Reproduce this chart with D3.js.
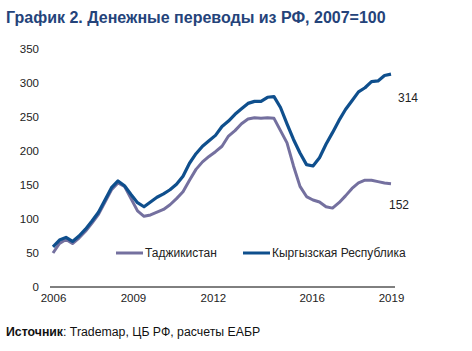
<!DOCTYPE html>
<html>
<head>
<meta charset="utf-8">
<script src="https://cdn.jsdelivr.net/npm/d3@7"></script>
<style>
  body { margin: 0; background: #fff; }
  svg { font-family: "Liberation Sans", Arial, sans-serif; }
</style>
</head>
<body>
<div id="chart"></div>
<script>
// quarterly series, 2006Q1 .. 2019Q1, 2007=100
var quarters = d3.range(0, 53);
var tajik = [50, 64, 70, 64, 72, 82, 94, 107, 125, 143, 153, 148, 130, 112, 104, 106,
    110, 114, 121, 130, 140, 157, 173, 184, 192, 199, 207, 222, 230, 240, 247, 249,
    248, 249, 248, 230, 212, 178, 148, 133, 128, 125, 118, 116, 124, 134, 145, 153,
    157, 157, 155, 153, 152];
var kyrgyz = [59, 69, 73, 67, 75, 85, 97, 110, 128, 146, 156, 149, 136, 124, 118, 125,
    132, 137, 143, 151, 163, 182, 196, 207, 215, 223, 236, 244, 254, 262, 270, 273,
    273, 279, 280, 264, 240, 217, 197, 180, 178, 190, 210, 227, 245, 261, 274, 287,
    293, 302, 303, 311, 313];
// label positions on the quarter index
var yearTicks = [0, 12.3, 24.6, 39.8, 52];
var yearLabels = ["2006", "2009", "2012", "2016", "2019"];
var seriesNames = ["Таджикистан", "Кыргызская Республика"];
var endLabels = ["152", "314"];

var W = 472, H = 351;
var margin = {top: 49, right: 80, bottom: 64, left: 53};

var svg = d3.select("#chart").append("svg")
    .attr("width", W)
    .attr("height", H);

var x = d3.scaleLinear().domain([0, 52]).range([margin.left, 391]);
var y = d3.scaleLinear().domain([0, 350]).range([287, 49]);

svg.append("text")
    .attr("x", 6)
    .attr("y", 23)
    .attr("font-size", 16)
    .attr("font-weight", "bold")
    .attr("fill", "#24437a")
    .text("График 2. Денежные переводы из РФ, 2007=100");

// y axis labels only
var yAxis = d3.axisLeft(y).tickValues(d3.range(0, 351, 50)).tickSize(0).tickPadding(0);
var gy = svg.append("g")
    .attr("transform", "translate(39,0)")
    .call(yAxis);
gy.select(".domain").remove();
gy.selectAll("text")
    .attr("font-size", 11.5)
    .attr("fill", "#222")
    .attr("font-family", "Liberation Sans, Arial, sans-serif");

// x axis
var xAxis = d3.axisBottom(x).tickValues(yearTicks)
    .tickFormat(function (d, i) { return yearLabels[i]; })
    .tickSize(0).tickPadding(7);
var gx = svg.append("g")
    .attr("transform", "translate(0," + y(0) + ")")
    .call(xAxis);
gx.select(".domain").remove();
gx.append("line")
    .attr("x1", 50).attr("x2", 395)
    .attr("stroke", "#000").attr("stroke-width", 1);
gx.selectAll("text")
    .attr("font-size", 11.5)
    .attr("fill", "#222")
    .attr("font-family", "Liberation Sans, Arial, sans-serif");

var line = d3.line()
    .x(function (d, i) { return x(quarters[i]); })
    .y(function (d) { return y(d); });

var colors = ["#74709f", "#0f4f8d"];

svg.append("path")
    .datum(tajik)
    .attr("fill", "none")
    .attr("stroke", colors[0])
    .attr("stroke-width", 3)
    .attr("stroke-linejoin", "round")
    .attr("d", line);

svg.append("path")
    .datum(kyrgyz)
    .attr("fill", "none")
    .attr("stroke", colors[1])
    .attr("stroke-width", 3.2)
    .attr("stroke-linejoin", "round")
    .attr("d", line);

// end values
svg.append("text")
    .attr("x", 389).attr("y", 209)
    .attr("font-size", 12).attr("fill", "#222")
    .text(endLabels[0]);
svg.append("text")
    .attr("x", 398).attr("y", 102)
    .attr("font-size", 12).attr("fill", "#222")
    .text(endLabels[1]);

// legend
var legendX = [116, 243];
var legend = svg.append("g");
seriesNames.forEach(function (name, i) {
    legend.append("line")
        .attr("x1", legendX[i]).attr("x2", legendX[i] + 27)
        .attr("y1", 253).attr("y2", 253)
        .attr("stroke", colors[i]).attr("stroke-width", 3);
    legend.append("text")
        .attr("x", legendX[i] + 29).attr("y", 257)
        .attr("font-size", 12).attr("fill", "#222")
        .text(name);
});

// source
var src = svg.append("text")
    .attr("x", 6).attr("y", 336)
    .attr("font-size", 12.3).attr("fill", "#111");
src.append("tspan").attr("font-weight", "bold").text("Источник");
src.append("tspan").text(": Trademap, ЦБ РФ, расчеты ЕАБР");
</script>
</body>
</html>
